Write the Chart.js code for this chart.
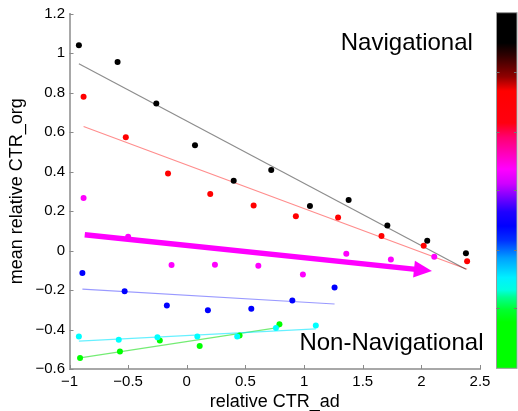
<!DOCTYPE html>
<html><head><meta charset="utf-8">
<script src="https://cdn.jsdelivr.net/npm/chart.js@4/dist/chart.umd.min.js"></script>
<style>html,body{margin:0;padding:0;background:#fff}#wrap{width:518px;height:411px;position:relative}</style>
</head><body><div id="wrap"><canvas id="c" width="518" height="411"></canvas></div>
<script>
// ---- data ----
const blackX = [-0.92,-0.59,-0.26,0.07,0.40,0.72,1.05,1.38,1.71,2.05,2.38];
const blackY = [1.039,0.955,0.744,0.533,0.353,0.407,0.225,0.256,0.126,0.050,-0.014];
const redX = [-0.88,-0.52,-0.16,0.20,0.57,0.93,1.29,1.66,2.02,2.39];
const redY = [0.779,0.574,0.390,0.286,0.228,0.174,0.167,0.074,0.024,-0.054];
const magentaX = [-0.88,-0.50,-0.13,0.24,0.61,0.99,1.36,1.74,2.11];
const magentaY = [0.266,0.069,-0.074,-0.072,-0.077,-0.122,-0.017,-0.045,-0.032];
const blueX = [-0.89,-0.53,-0.17,0.18,0.55,0.90,1.26];
const blueY = [-0.114,-0.206,-0.278,-0.303,-0.295,-0.253,-0.187];
const cyanX = [-0.92,-0.58,-0.25,0.09,0.43,0.76,1.10];
const cyanY = [-0.436,-0.452,-0.439,-0.436,-0.436,-0.392,-0.380];
const greenX = [-0.91,-0.57,-0.23,0.11,0.45,0.79];
const greenY = [-0.544,-0.511,-0.456,-0.484,-0.431,-0.373];
// fitted trend lines (end points)
const blackFitX = [-0.92, 2.38], blackFitY = [0.946, -0.095];
const redFitX = [-0.88, 2.39], redFitY = [0.628, -0.095];
const blueFitX = [-0.89, 1.26], blueFitY = [-0.196, -0.271];
const cyanFitX = [-0.92, 1.10], cyanFitY = [-0.459, -0.397];
const greenFitX = [-0.91, 0.79], greenFitY = [-0.544, -0.389];
// annotation arrow (start, tip)
const arrowX = [-0.87, 2.09], arrowY = [0.080, -0.104];
// tick labels
const xTicks = [-1,-0.5,0,0.5,1,1.5,2,2.5];
const yTicks = [-0.6,-0.4,-0.2,0,0.2,0.4,0.6,0.8,1,1.2];
// annotation texts
const labels = [
  {text:'Navigational', x:1.313, y:1.015},
  {text:'Non-Navigational', x:0.96, y:-0.506}
];
// colour bar stops (fraction from top)
const cbarStops = [
  [0,'#000000'],[0.085,'#000000'],[0.12,'#300000'],[0.18,'#900000'],[0.22,'#ff0000'],
  [0.31,'#ff0010'],[0.35,'#ff0070'],[0.40,'#ff00c0'],[0.44,'#ff00ff'],[0.48,'#d000ff'],
  [0.53,'#6000ff'],[0.56,'#2000ff'],[0.60,'#0000ff'],[0.64,'#0030ff'],[0.69,'#00a0ff'],
  [0.745,'#00f0ff'],[0.78,'#00ffe0'],[0.80,'#00ff90'],[0.835,'#00ff30'],[0.87,'#00ff00'],[1,'#00ff00']
];
const cbarTicks = [0.166,0.335,0.499,0.667,0.831];

const FONT = "'Liberation Sans', Arial, Helvetica, sans-serif";
const pts = (xs, ys) => xs.map((x,i)=>({x, y: ys[i]}));

function scatterDS(xs, ys, color){
  return {type:'scatter', data:pts(xs,ys), backgroundColor:color, borderWidth:0,
          pointRadius:3, pointHoverRadius:3, order:0};
}
function lineDS(xs, ys, color){
  return {type:'line', data:pts(xs,ys), borderColor:color, borderWidth:1.2,
          pointRadius:0, fill:false, tension:0, order:1};
}

const fmt = v => {
  let s = (Math.round(v*10)/10).toString();
  return s.replace('-', '\u2212');
};

const extras = {
  id:'extras',
  afterDraw(chart){
    const {ctx, chartArea:a, scales:{x, y}} = chart;
    ctx.save();
    // inward ticks
    ctx.strokeStyle = '#8a8a8a'; ctx.lineWidth = 1;
    xTicks.forEach(v=>{ const px = Math.round(x.getPixelForValue(v))+0.5;
      ctx.beginPath(); ctx.moveTo(px, a.bottom); ctx.lineTo(px, a.bottom-4); ctx.stroke(); });
    yTicks.forEach(v=>{ const py = Math.round(y.getPixelForValue(v))+0.5;
      ctx.beginPath(); ctx.moveTo(a.left, py); ctx.lineTo(a.left+4, py); ctx.stroke(); });
    // arrow
    const x0 = x.getPixelForValue(arrowX[0]), y0 = y.getPixelForValue(arrowY[0]);
    const x1 = x.getPixelForValue(arrowX[1]), y1 = y.getPixelForValue(arrowY[1]);
    const ang = Math.atan2(y1-y0, x1-x0), ux = Math.cos(ang), uy = Math.sin(ang);
    const headL = 18, headW = 8.5;
    const bx = x1 - ux*headL, by = y1 - uy*headL;
    ctx.strokeStyle = '#ff00ff'; ctx.fillStyle = '#ff00ff'; ctx.lineWidth = 5.5; ctx.lineCap='butt';
    ctx.beginPath(); ctx.moveTo(x0,y0); ctx.lineTo(bx+ux*2, by+uy*2); ctx.stroke();
    ctx.beginPath(); ctx.moveTo(x1,y1);
    ctx.lineTo(bx - uy*headW, by + ux*headW);
    ctx.lineTo(bx + uy*headW, by - ux*headW);
    ctx.closePath(); ctx.fill();
    // texts
    ctx.fillStyle = '#000'; ctx.font = "24px " + FONT; ctx.textBaseline='alphabetic'; ctx.textAlign='left';
    labels.forEach(l=> ctx.fillText(l.text, x.getPixelForValue(l.x), y.getPixelForValue(l.y)));
    // colour bar
    const cx = 496.5, cw = 20.5, cy = 12.7, ch = 355.6;
    const g = ctx.createLinearGradient(0, cy, 0, cy+ch);
    cbarStops.forEach(s=>g.addColorStop(s[0], s[1]));
    ctx.fillStyle = g; ctx.fillRect(cx, cy, cw, ch);
    ctx.strokeStyle = '#9a9a9a'; ctx.lineWidth = 1; ctx.strokeRect(cx, cy, cw, ch);
    ctx.strokeStyle = '#777';
    cbarTicks.forEach(f=>{ const py = Math.round(cy + f*ch)+0.5;
      ctx.beginPath(); ctx.moveTo(cx, py); ctx.lineTo(cx+3, py); ctx.stroke();
      ctx.beginPath(); ctx.moveTo(cx+cw, py); ctx.lineTo(cx+cw-3, py); ctx.stroke(); });
    ctx.restore();
  }
};

new Chart(document.getElementById('c'), {
  data: {
    datasets: [
      scatterDS(blackX, blackY, '#000000'),
      scatterDS(redX, redY, '#ff0000'),
      scatterDS(magentaX, magentaY, '#ff00ff'),
      scatterDS(blueX, blueY, '#0000ff'),
      scatterDS(cyanX, cyanY, '#00ffff'),
      scatterDS(greenX, greenY, '#00ff00'),
      lineDS(blackFitX, blackFitY, 'rgba(0,0,0,0.45)'),
      lineDS(redFitX, redFitY, 'rgba(255,0,0,0.45)'),
      lineDS(blueFitX, blueFitY, 'rgba(0,0,255,0.4)'),
      lineDS(cyanFitX, cyanFitY, 'rgba(0,230,255,0.6)'),
      lineDS(greenFitX, greenFitY, 'rgba(0,220,0,0.55)')
    ]
  },
  options: {
    responsive:false, animation:false, devicePixelRatio:1,
    layout:{padding:{left:0, top:12.5, right:38, bottom:0}},
    plugins:{legend:{display:false}, tooltip:{enabled:false}},
    scales:{
      x:{type:'linear', position:'bottom', min:-1, max:2.5,
        afterBuildTicks: s => { s.ticks = xTicks.map(v=>({value:v})); },
        afterFit: s => { s.height = 42; },
        grid:{drawOnChartArea:false, drawTicks:false},
        border:{color:'#a8a8a8', width:2},
        ticks:{font:{family:FONT, size:15}, color:'#000', padding:4, maxRotation:0, autoSkip:false, callback:v=>fmt(v)},
        title:{display:true, text:'relative CTR_ad', color:'#000', font:{family:FONT, size:18, lineHeight:1}, padding:{top:0,bottom:0}}
      },
      y:{type:'linear', position:'left', min:-0.6, max:1.2,
        afterBuildTicks: s => { s.ticks = yTicks.map(v=>({value:v})); },
        afterFit: s => { s.width = 69.5; },
        grid:{drawOnChartArea:false, drawTicks:false},
        border:{color:'#a8a8a8', width:2},
        ticks:{font:{family:FONT, size:15}, color:'#000', padding:4.5, autoSkip:false, callback:v=>fmt(v)},
        title:{display:true, text:'mean relative CTR_org', color:'#000', font:{family:FONT, size:18, lineHeight:1}, padding:{top:8,bottom:0}}
      }
    }
  },
  plugins:[extras]
});
</script></body></html>
